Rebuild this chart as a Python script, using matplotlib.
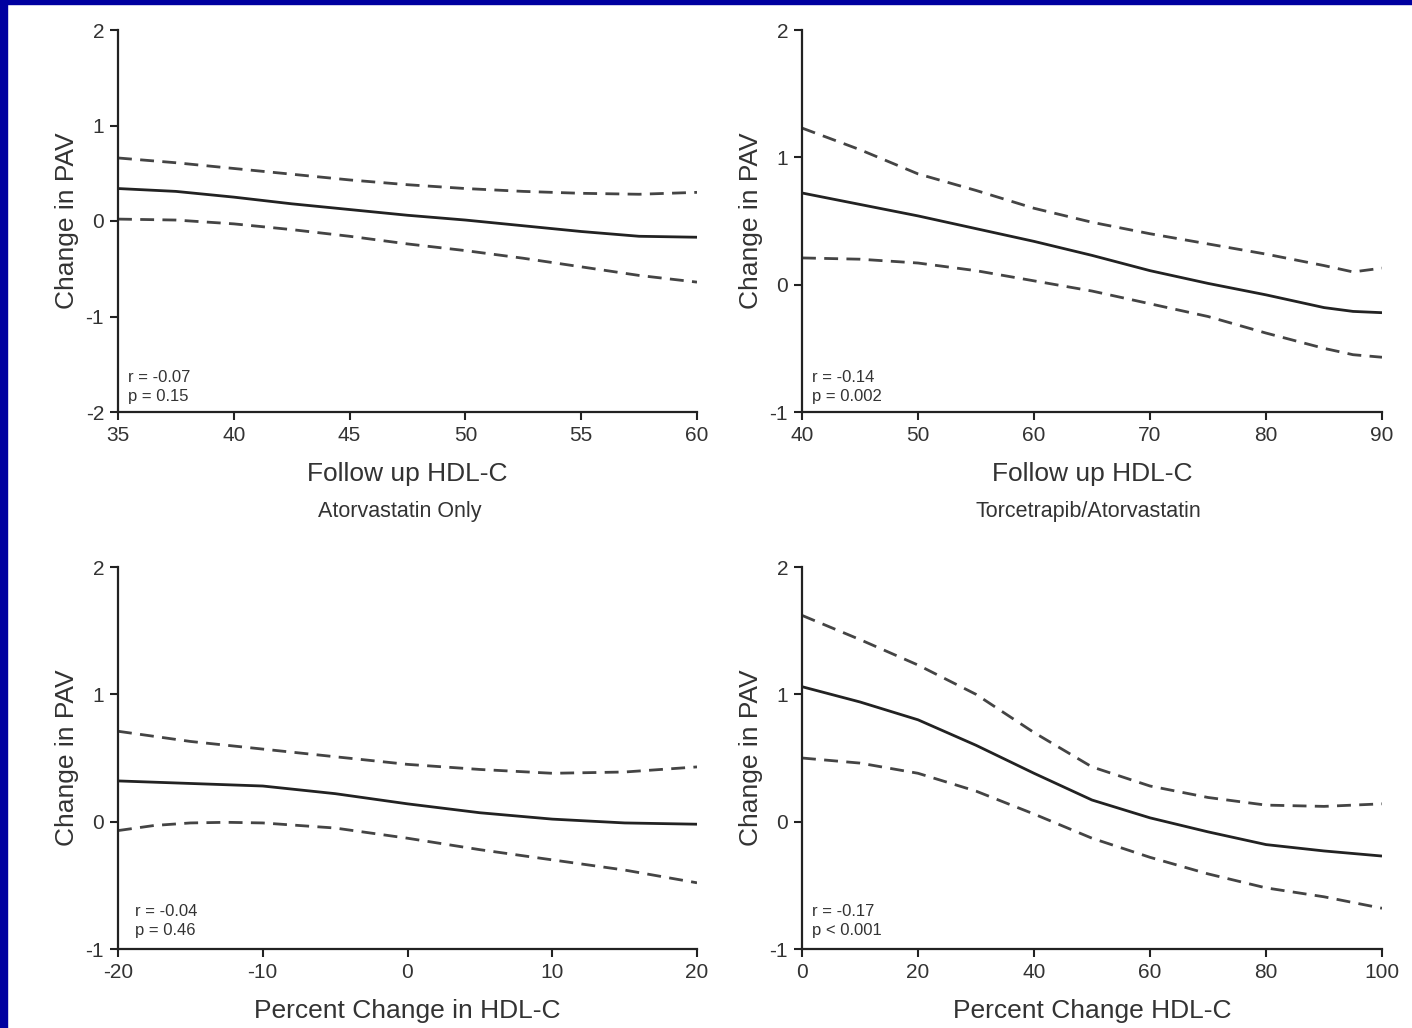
import matplotlib
matplotlib.use("Agg")
import matplotlib.pyplot as plt
from matplotlib.patches import Rectangle

plt.rcParams['font.family'] = ['Liberation Sans', 'DejaVu Sans']
plt.rcParams['axes.unicode_minus'] = False

# ---- Data ----
# Panel A: Atorvastatin only, follow-up HDL-C
a_x = [35, 37.5, 40, 42.5, 45, 47.5, 50, 52.5, 55, 57.5, 60]
a_fit = [0.34, 0.31, 0.25, 0.18, 0.12, 0.06, 0.01, -0.05, -0.11, -0.16, -0.17]
a_up = [0.66, 0.61, 0.55, 0.49, 0.43, 0.38, 0.34, 0.31, 0.29, 0.28, 0.30]
a_lo = [0.02, 0.01, -0.03, -0.09, -0.16, -0.24, -0.31, -0.39, -0.48, -0.57, -0.64]

# Panel B: Torcetrapib/Atorvastatin, follow-up HDL-C
b_x = [40, 45, 50, 55, 60, 65, 70, 75, 80, 85, 87.5, 90]
b_fit = [0.72, 0.63, 0.54, 0.44, 0.34, 0.23, 0.11, 0.01, -0.08, -0.18, -0.21, -0.22]
b_up = [1.23, 1.06, 0.87, 0.74, 0.60, 0.49, 0.40, 0.32, 0.24, 0.15, 0.10, 0.13]
b_lo = [0.21, 0.20, 0.17, 0.11, 0.03, -0.05, -0.15, -0.25, -0.38, -0.50, -0.55, -0.57]

# Panel C: Atorvastatin only, percent change in HDL-C
c_x = [-20, -17.5, -15, -12.5, -10, -7.5, -5, 0, 5, 10, 15, 20]
c_fit = [0.32, 0.31, 0.30, 0.29, 0.28, 0.25, 0.22, 0.14, 0.07, 0.02, -0.01, -0.02]
c_up = [0.71, 0.67, 0.63, 0.60, 0.57, 0.54, 0.51, 0.45, 0.41, 0.38, 0.39, 0.43]
c_lo = [-0.07, -0.03, -0.01, -0.005, -0.01, -0.03, -0.05, -0.13, -0.22, -0.30, -0.38, -0.48]

# Panel D: Torcetrapib/Atorvastatin, percent change HDL-C
d_x = [0, 10, 20, 30, 40, 50, 60, 70, 80, 90, 100]
d_fit = [1.06, 0.94, 0.80, 0.60, 0.38, 0.17, 0.03, -0.08, -0.18, -0.23, -0.27]
d_up = [1.62, 1.43, 1.23, 1.00, 0.70, 0.43, 0.28, 0.19, 0.13, 0.12, 0.14]
d_lo = [0.50, 0.46, 0.38, 0.24, 0.06, -0.13, -0.28, -0.41, -0.52, -0.59, -0.68]

panels = [
    dict(x=a_x, fit=a_fit, up=a_up, lo=a_lo, xlim=(35, 60), xticks=[35, 40, 45, 50, 55, 60],
         ylim=(-2, 2), yticks=[-2, -1, 0, 1, 2], xlabel="Follow up HDL-C",
         stats=("r = -0.07", "p = 0.15"), rect=(118, 30, 697, 412), sx=0.017),
    dict(x=b_x, fit=b_fit, up=b_up, lo=b_lo, xlim=(40, 90), xticks=[40, 50, 60, 70, 80, 90],
         ylim=(-1, 2), yticks=[-1, 0, 1, 2], xlabel="Follow up HDL-C",
         stats=("r = -0.14", "p = 0.002"), rect=(802, 30, 1382, 412), sx=0.017),
    dict(x=c_x, fit=c_fit, up=c_up, lo=c_lo, xlim=(-20, 20), xticks=[-20, -10, 0, 10, 20],
         ylim=(-1, 2), yticks=[-1, 0, 1, 2], xlabel="Percent Change in HDL-C",
         stats=("r = -0.04", "p = 0.46"), rect=(118, 567, 697, 949), sx=0.029),
    dict(x=d_x, fit=d_fit, up=d_up, lo=d_lo, xlim=(0, 100), xticks=[0, 20, 40, 60, 80, 100],
         ylim=(-1, 2), yticks=[-1, 0, 1, 2], xlabel="Percent Change HDL-C",
         stats=("r = -0.17", "p < 0.001"), rect=(802, 567, 1382, 949), sx=0.017),
]

W, H = 1412, 1028
fig = plt.figure(figsize=(W / 100, H / 100), dpi=100)
fig.patch.set_facecolor('white')

# blue frame strips
blue = '#0000A0'
fig.patches.append(Rectangle((0, 0), 7 / W, 1, transform=fig.transFigure, color=blue, zorder=0))
fig.patches.append(Rectangle((0, 1 - 4 / H), 1, 4 / H, transform=fig.transFigure, color=blue, zorder=0))

spine_col = '#222222'
txt_col = '#333333'

for p in panels:
    l, t, r, b = p['rect']
    ax = fig.add_axes([l / W, 1 - b / H, (r - l) / W, (b - t) / H])
    ax.plot(p['x'], p['fit'], color='#222222', lw=2.0, solid_capstyle='butt')
    ax.plot(p['x'], p['up'], color='#444444', lw=2.0, dashes=(5, 3))
    ax.plot(p['x'], p['lo'], color='#444444', lw=2.0, dashes=(5, 3))
    ax.set_xlim(*p['xlim'])
    ax.set_ylim(*p['ylim'])
    ax.set_xticks(p['xticks'])
    ax.set_yticks(p['yticks'])
    for s in ('top', 'right'):
        ax.spines[s].set_visible(False)
    for s in ('left', 'bottom'):
        ax.spines[s].set_color(spine_col)
        ax.spines[s].set_linewidth(1.6)
    ax.tick_params(direction='out', length=6, width=1.5, color=spine_col,
                   labelsize=15, labelcolor=txt_col, pad=4)
    ax.set_xlabel(p['xlabel'], fontsize=19, color=txt_col, labelpad=12)
    ax.set_ylabel("Change in PAV", fontsize=19, color=txt_col, labelpad=5)
    y_r = (b - 378) / (b - t) if t == 30 else (b - 912) / (b - t)
    y_p = (b - 396) / (b - t) if t == 30 else (b - 930) / (b - t)
    ax.text(p['sx'], y_r, p['stats'][0], transform=ax.transAxes, fontsize=12,
            color=txt_col, va='center', ha='left')
    ax.text(p['sx'], y_p, p['stats'][1], transform=ax.transAxes, fontsize=12,
            color=txt_col, va='center', ha='left')

fig.text(400 / W, 1 - 511 / H, "Atorvastatin Only", fontsize=15.5, color=txt_col,
         ha='center', va='center')
fig.text(1088 / W, 1 - 511 / H, "Torcetrapib/Atorvastatin", fontsize=15.5, color=txt_col,
         ha='center', va='center')

fig.savefig("out.png", dpi=100, facecolor=fig.get_facecolor())
